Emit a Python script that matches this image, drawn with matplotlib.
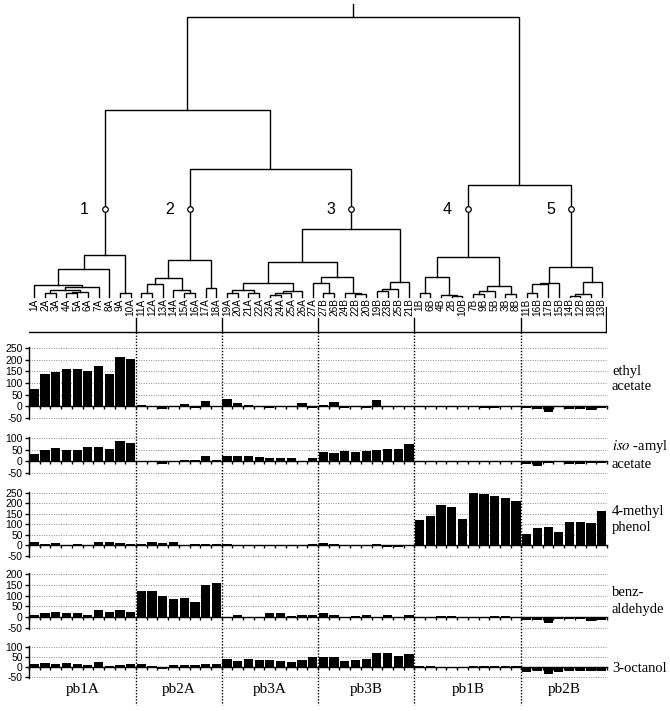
import numpy as np
import matplotlib
matplotlib.use("Agg")
import matplotlib.pyplot as plt

# ---- data -------------------------------------------------------------
groups = ["pb1A", "pb2A", "pb3A", "pb3B", "pb1B", "pb2B"]
leaves = ["1A", "2A", "3A", "4A", "5A", "6A", "7A", "8A", "9A", "10A",
          "11A", "12A", "13A", "14A", "15A", "16A", "17A", "18A",
          "19A", "20A", "21A", "22A", "23A", "24A", "25A", "26A", "27A",
          "27B", "26B", "24B", "22B", "20B", "19B", "23B", "25B", "21B",
          "1B", "6B", "4B", "2B", "10B", "7B", "9B", "5B", "3B", "8B",
          "11B", "16B", "17B", "15B", "14B", "12B", "18B", "13B"]
group_sizes = [10, 8, 9, 9, 10, 8]

ethyl_acetate = [75, 139, 147, 161, 160, 150, 174, 140, 210, 203,
                 5, -3, -12, 0, 12, -5, 25, 2,
                 30, 15, 5, 3, -5, 0, 0, 15, -5,
                 5, 20, -5, 0, -5, 28, 3, 3, 3,
                 0, 3, 0, 3, 0, 0, -5, -5, 0, 2,
                 -8, -12, -25, -3, -10, -10, -15, -5]
isoamyl_acetate = [30, 50, 55, 50, 50, 62, 60, 52, 88, 78,
                   2, 2, -10, 3, 5, 5, 22, 5,
                   25, 23, 22, 18, 15, 15, 15, 3, 15,
                   38, 35, 45, 38, 45, 48, 52, 52, 75,
                   0, 3, 0, 0, -2, -2, 0, 0, -2, 0,
                   -10, -18, -5, 0, -10, -10, -8, -8]
methyl_phenol = [15, 8, 12, 3, 8, 3, 18, 18, 12, 5,
                 8, 15, 12, 15, 3, 8, 8, 8,
                 8, 3, 2, 2, 2, 3, 2, 2, 5,
                 12, 5, 3, 3, 3, 8, -8, -5, 3,
                 122, 142, 193, 182, 125, 252, 244, 236, 225, 210,
                 55, 82, 87, 65, 111, 114, 108, 165]
benzaldehyde = [12, 20, 25, 20, 17, 12, 31, 23, 35, 26,
                123, 122, 100, 86, 90, 71, 151, 158,
                -5, 8, 2, 2, 18, 18, 5, 8, 8,
                18, 10, -5, 3, 12, -3, 12, -3, 8,
                -3, 0, 3, 3, 0, 0, 0, 3, 3, -3,
                -15, -15, -25, -10, -10, -8, -20, -15]
octanol = [14, 20, 17, 19, 14, 11, 23, 3, 12, 14,
           15, 5, -10, 8, 10, 8, 15, 15,
           42, 30, 40, 37, 37, 30, 27, 35, 48,
           50, 52, 31, 34, 39, 70, 70, 55, 66,
           5, 5, 0, 0, 0, 3, 5, 3, 5, 3,
           -25, -20, -35, -25, -20, -20, -20, -20]

panel_names = ["ethyl\nacetate", r"$\mathit{iso}$ -amyl" + "\nacetate",
               "4-methyl\nphenol", "benz-\naldehyde", "3-octanol"]
panel_values = [ethyl_acetate, isoamyl_acetate, methyl_phenol, benzaldehyde, octanol]
panel_ticks = [[-50, 0, 50, 100, 150, 200, 250], [-50, 0, 50, 100],
               [-50, 0, 50, 100, 150, 200, 250], [-50, 0, 50, 100, 150, 200],
               [-50, 0, 50, 100]]

# dendrogram: (merge height, left, right)
c1 = (42, (28, (12, "1A", (10, (7, (4, "2A", "3A"), (5, (4, "4A", "5A"), "6A")), "7A")), "8A"),
      (4, "9A", "10A"))
c2 = (37, (19, (13, (4, "11A", "12A"), "13A"), (7, "14A", (4, "15A", "16A"))),
      (9, "17A", "18A"))
c3 = (68, (35, (14, (7, (4, "19A", "20A"), (4, "21A", "22A")),
                (6, (4, (2, "23A", "24A"), "25A"), "26A")),
           (20, (14, "27A", (4, "27B", "26B")), (4, "24B", (3, "22B", "20B")))),
      (15, (8, (6, "19B", "23B"), "25B"), "21B"))
c4 = (40, (20, (4, "1B", "6B"), (2, "4B", (1, "2B", "10B"))),
      (11, (6, (3, "7B", "9B"), "5B"), (3, "3B", "8B")))
c5 = (30, (14, (13, (4, "11B", "16B"), "17B"), "15B"),
      (15, (3, (1, "14B", "12B"), "18B"), "13B"))
root = (280, (187, c1, (128, c2, c3)), (112, c4, c5))
clusters = [c1, c2, c3, c4, c5]
cluster_names = ["1", "2", "3", "4", "5"]
marker_height = 88

# ---- layout -----------------------------------------------------------
W, H = 670, 711
fig = plt.figure(figsize=(W / 100, H / 100), dpi=100)
x0, x1 = 29, 607
L, Wd = x0 / W, (x1 - x0) / W
n = len(leaves)
xs = np.arange(n)
xlim = (-0.5, n - 0.5)

sans = ["Liberation Sans", "DejaVu Sans"]
serif = ["Liberation Serif", "DejaVu Serif"]
plt.rcParams["mathtext.fontset"] = "stix"


def fig_axes(top_px, bot_px):
    return fig.add_axes([L, 1 - bot_px / H, Wd, (bot_px - top_px) / H])


# panel extents in pixels: (top, bottom) for ylims (-55, top limit)
panel_px = [(346.8, 419.2), (436.8, 474.2), (491.9, 557.0), (572.9, 629.0), (646.0, 678.0)]
label_y = [379, 454, 519, 601, 668]

boundaries = np.cumsum(group_sizes)[:-1] - 0.5

for vals, ticks, (tp, bp), name, ly in zip(panel_values, panel_ticks, panel_px,
                                          panel_names, label_y):
    ax = fig_axes(tp, bp)
    ax.bar(xs, vals, width=0.86, color="black", zorder=3)
    ax.set_xlim(*xlim)
    ax.set_ylim(-55, ticks[-1] + 5)
    ax.set_yticks(ticks)
    ax.set_yticklabels([str(t) for t in ticks], fontsize=7.5, family=sans)
    ax.yaxis.grid(True, linestyle=(0, (1, 1.5)), color="0.55", lw=0.7)
    ax.set_axisbelow(True)
    for s in ["top", "right"]:
        ax.spines[s].set_visible(False)
    ax.spines["bottom"].set_position(("data", 0))
    ax.spines["bottom"].set_zorder(4)
    ax.spines["left"].set_linewidth(1.0)
    ax.spines["bottom"].set_linewidth(1.0)
    ax.set_xticks(np.arange(n + 1) - 0.5)
    ax.set_xticklabels([])
    ax.tick_params(axis="x", direction="out", length=2.5, width=1.0)
    ax.tick_params(axis="y", direction="out", length=3, width=1.0, pad=1.5)
    ax.patch.set_alpha(0)
    fig.text(612 / W, 1 - ly / H, name, fontsize=10.5, family=serif,
             va="center", ha="left", linespacing=1.3)

# ---- dendrogram ---------------------------------------------------------
leaf_px = 297
axt = fig_axes(0, leaf_px)
axt.set_xlim(*xlim)
axt.set_ylim(0, leaf_px)
axt.axis("off")
pos = {name: i for i, name in enumerate(leaves)}
node_x = {}


def draw(node):
    if isinstance(node, str):
        return pos[node], 0
    h, a, b = node
    xa, ha = draw(a)
    xb, hb = draw(b)
    axt.plot([xa, xa, xb, xb], [ha, h, h, hb], color="black", lw=1.0,
             solid_joinstyle="miter", clip_on=False)
    xm = (xa + xb) / 2
    node_x[id(node)] = xm
    return xm, h


xr, hr = draw(root)
axt.plot([xr, xr], [hr, 293], color="black", lw=1.0, clip_on=False)

for c, cn in zip(clusters, cluster_names):
    cx = node_x[id(c)]
    axt.plot(cx, marker_height, marker="o", ms=4, mfc="white", mec="black",
             mew=0.9, clip_on=False, zorder=5)
    axt.text(cx - 1.9, marker_height, cn, fontsize=11.5, family=sans,
             ha="center", va="center")

for name, i in pos.items():
    axt.text(i, -1.5, name, rotation=90, ha="center", va="top",
             fontsize=7.2, family=sans)

# ---- brackets, separators, group labels --------------------------------
axo = fig.add_axes([L, 0, Wd, 1])
axo.set_xlim(*xlim)
axo.set_ylim(H, 0)
axo.axis("off")
axo.plot([-0.7, n - 0.5 - 0.1], [332, 332], color="black", lw=1.0)
axo.plot([-0.7, -0.7], [318, 332], color="black", lw=1.0)
axo.plot([n - 0.6, n - 0.6], [307, 332], color="black", lw=1.0)
for b in boundaries:
    axo.plot([b, b], [318, 332], color="black", lw=1.0)
    axo.plot([b, b], [332, 705], color="black", lw=1.0, linestyle=(0, (1, 1.2)))

starts = np.concatenate([[0], np.cumsum(group_sizes)[:-1]])
for g, s, sz in zip(groups, starts, group_sizes):
    axo.text(s + (sz - 1) / 2, 690, g, fontsize=11, family=serif,
             ha="center", va="center")

fig.savefig("out.png", dpi=100)
